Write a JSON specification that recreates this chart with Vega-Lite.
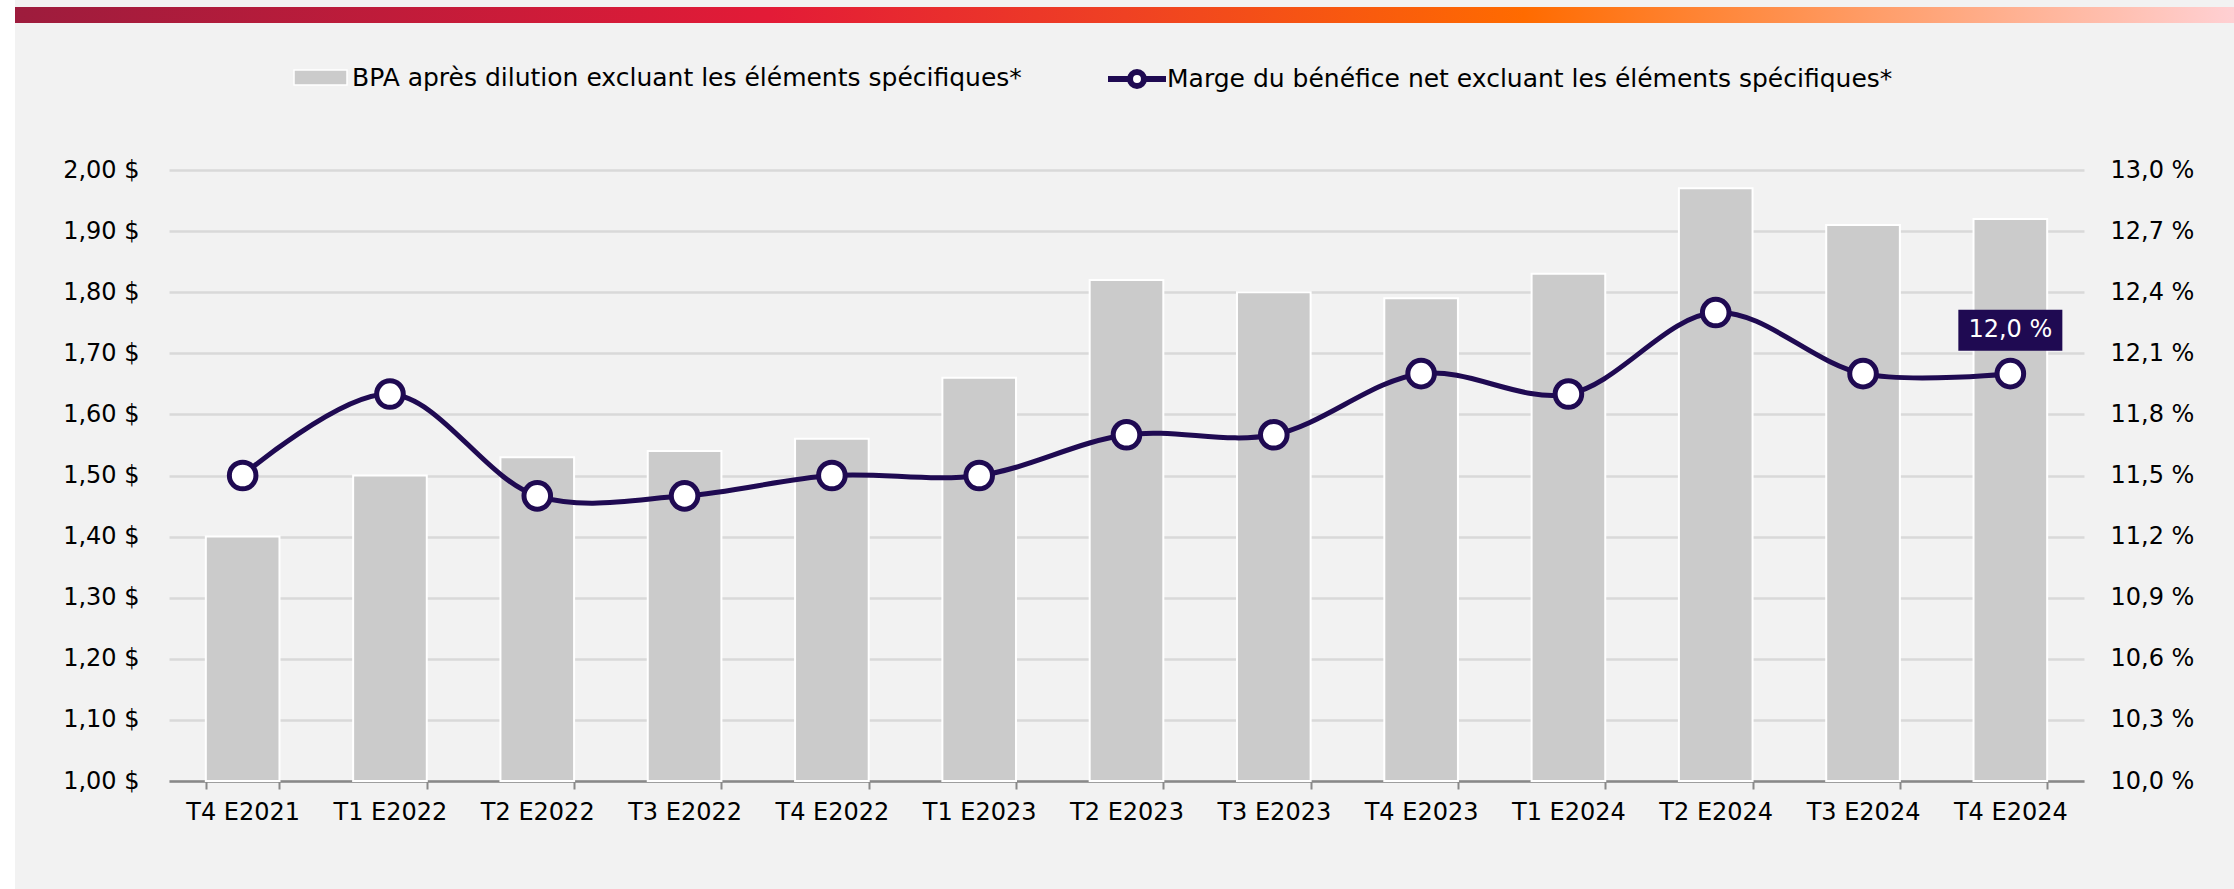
{
  "$schema": "https://vega.github.io/schema/vega-lite/v6.json",
  "autosize": "none",
  "width": 1915,
  "height": 611,
  "padding": {"left": 169, "top": 170, "right": 150, "bottom": 108},
  "background": "#F2F2F2",
  "title": {
    "text": "de 1,92 $, hausse de 7,0 % p/r au T4 de l'E2023",
    "anchor": "middle",
    "frame": "group",
    "font": "DejaVu Sans",
    "fontSize": 38,
    "fontWeight": "normal",
    "color": "#000000",
    "baseline": "alphabetic",
    "offset": 0,
    "dy": 16
  },
  "config": {
    "view": {"stroke": null},
    "font": "DejaVu Sans",
    "axis": {"labelFont": "DejaVu Sans", "labelFontSize": 24, "labelColor": "#000000", "title": null},
    "legend": {"labelFont": "DejaVu Sans", "labelFontSize": 25, "labelColor": "#000000", "labelLimit": 0, "padding": 0, "title": null}
  },
  "data": {
    "values": [
      {"trimestre": "T4 E2021", "bpa": 1.40, "marge": 11.5, "etiquette": ""},
      {"trimestre": "T1 E2022", "bpa": 1.50, "marge": 11.9, "etiquette": ""},
      {"trimestre": "T2 E2022", "bpa": 1.53, "marge": 11.4, "etiquette": ""},
      {"trimestre": "T3 E2022", "bpa": 1.54, "marge": 11.4, "etiquette": ""},
      {"trimestre": "T4 E2022", "bpa": 1.56, "marge": 11.5, "etiquette": ""},
      {"trimestre": "T1 E2023", "bpa": 1.66, "marge": 11.5, "etiquette": ""},
      {"trimestre": "T2 E2023", "bpa": 1.82, "marge": 11.7, "etiquette": ""},
      {"trimestre": "T3 E2023", "bpa": 1.80, "marge": 11.7, "etiquette": ""},
      {"trimestre": "T4 E2023", "bpa": 1.79, "marge": 12.0, "etiquette": ""},
      {"trimestre": "T1 E2024", "bpa": 1.83, "marge": 11.9, "etiquette": ""},
      {"trimestre": "T2 E2024", "bpa": 1.97, "marge": 12.3, "etiquette": ""},
      {"trimestre": "T3 E2024", "bpa": 1.91, "marge": 12.0, "etiquette": ""},
      {"trimestre": "T4 E2024", "bpa": 1.92, "marge": 12.0, "etiquette": "12,0 %"}
    ]
  },
  "encoding": {
    "x": {
      "field": "trimestre",
      "type": "nominal",
      "sort": null,
      "scale": {"paddingInner": 0.5, "paddingOuter": 0.25},
      "axis": {
        "labelAngle": 0,
        "domainColor": "#898989",
        "domainWidth": 2.5,
        "tickColor": "#898989",
        "tickWidth": 2,
        "tickSize": 8,
        "tickBand": "extent",
        "labelPadding": 11,
        "grid": false
      }
    }
  },
  "layer": [
    {
      "data": {"values": [{"decor": "bandeau"}]},
      "mark": {
        "type": "rect",
        "color": {
          "gradient": "linear",
          "x1": 0, "x2": 1, "y1": 0, "y2": 0,
          "stops": [
            {"offset": 0, "color": "#9D1C3D"},
            {"offset": 0.34, "color": "#E31B37"},
            {"offset": 0.5, "color": "#EF4123"},
            {"offset": 0.68, "color": "#FF6B00"},
            {"offset": 1, "color": "#FFD0D3"}
          ]
        }
      },
      "encoding": {"x": {"value": -154}, "x2": {"value": 2065}, "y": {"value": -163}, "y2": {"value": -147}}
    },
    {
      "data": {"values": [{"decor": "marge gauche"}]},
      "mark": {"type": "rect", "color": "#FFFFFF"},
      "encoding": {"x": {"value": -169}, "x2": {"value": -154}, "y": {"value": -170}, "y2": {"value": 719}}
    },
    {
      "mark": {"type": "bar", "stroke": "#FFFFFF", "strokeWidth": 2},
      "encoding": {
        "y": {
          "field": "bpa",
          "type": "quantitative",
          "scale": {"domain": [1, 2], "zero": false, "nice": false},
          "axis": {
            "orient": "left",
            "values": [1, 1.1, 1.2, 1.3, 1.4, 1.5, 1.6, 1.7, 1.8, 1.9, 2],
            "labelExpr": "replace(format(datum.value, '.2f'), '.', ',') + ' $'",
            "grid": true,
            "gridColor": "#D9D9D9",
            "gridWidth": 2.5,
            "domain": false,
            "ticks": false,
            "labelPadding": 30
          }
        },
        "y2": {"datum": 1},
        "color": {
          "datum": "BPA après dilution excluant les éléments spécifiques*",
          "scale": {"range": ["#CBCBCB"]},
          "legend": {
            "orient": "none",
            "legendX": 124,
            "legendY": -120,
            "symbolType": "M-1,-0.283H1V0.283H-1Z",
            "symbolSize": 2809,
            "labelOffset": 4,
            "encode": {"symbols": {"update": {"fill": {"value": "#CBCBCB"}, "stroke": {"value": "#FFFFFF"}, "strokeWidth": {"value": 1.5}, "opacity": {"value": 1}}}}
          }
        }
      }
    },
    {
      "encoding": {
        "y": {
          "field": "marge",
          "type": "quantitative",
          "scale": {"domain": [10, 13], "zero": false, "nice": false},
          "axis": {
            "orient": "right",
            "values": [10, 10.3, 10.6, 10.9, 11.2, 11.5, 11.8, 12.1, 12.4, 12.7, 13],
            "labelExpr": "replace(format(datum.value, '.1f'), '.', ',') + (datum.value == 10 ? '  %' : ' %')",
            "grid": false,
            "domain": false,
            "ticks": false,
            "labelPadding": 26
          }
        }
      },
      "layer": [
        {
          "mark": {"type": "line", "interpolate": "catmull-rom", "strokeWidth": 5},
          "encoding": {
            "stroke": {
              "datum": "Marge du bénéfice net excluant les éléments spécifiques*",
              "scale": {"range": ["#1F0A52"]},
              "legend": {
                "orient": "none",
                "legendX": 936,
                "legendY": -123,
                "symbolType": "M-1,0H-0.24M0.24,0H1M-0.24,0A0.24,0.24 0 1,1 0.24,0A0.24,0.24 0 1,1 -0.24,0Z",
                "symbolSize": 3364,
                "labelOffset": -2,
                "encode": {"symbols": {"update": {"fill": {"value": "#FFFFFF"}, "stroke": {"value": "#1F0A52"}, "strokeWidth": {"value": 6}, "opacity": {"value": 1}}}}
              }
            }
          }
        },
        {
          "mark": {"type": "point", "filled": false, "fill": "#FFFFFF", "fillOpacity": 1, "strokeWidth": 5, "size": 707, "opacity": 1},
          "encoding": {
            "stroke": {"datum": "Marge du bénéfice net excluant les éléments spécifiques*"}
          }
        },
        {
          "transform": [{"filter": "datum.etiquette != ''"}],
          "mark": {"type": "bar", "width": 104, "color": "#1F0A52", "yOffset": -23, "y2Offset": -64},
          "encoding": {"y2": {"field": "marge"}}
        },
        {
          "transform": [{"filter": "datum.etiquette != ''"}],
          "mark": {"type": "text", "color": "#FFFFFF", "font": "DejaVu Sans", "fontSize": 24, "align": "center", "baseline": "middle", "dy": -43.5},
          "encoding": {"text": {"field": "etiquette"}}
        }
      ]
    }
  ],
  "resolve": {"scale": {"y": "independent"}}
}
